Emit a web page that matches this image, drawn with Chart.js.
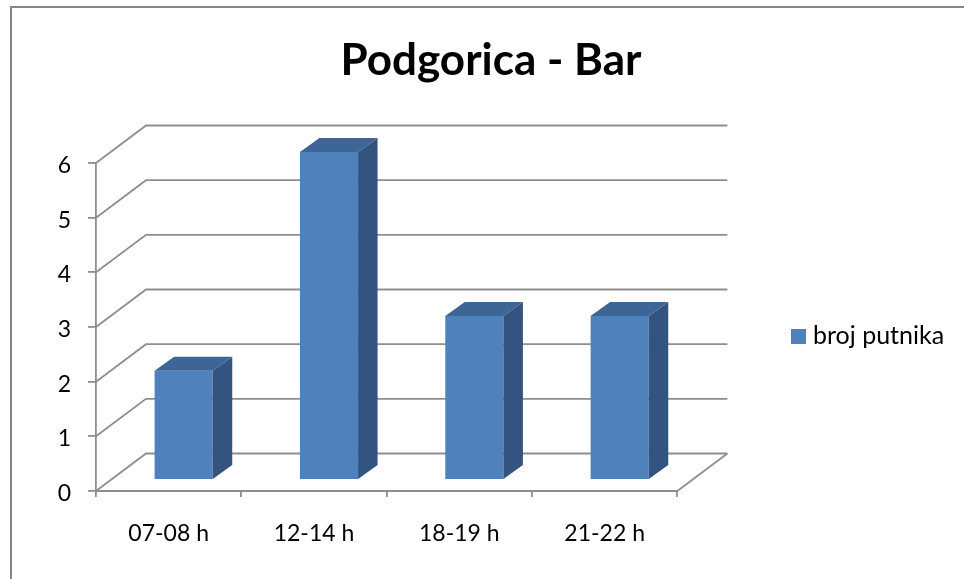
<!DOCTYPE html>
<html>
<head>
<meta charset="utf-8">
<title>Podgorica - Bar</title>
<script src="https://cdn.jsdelivr.net/npm/chart.js@4"></script>
<style>
  html, body { margin: 0; padding: 0; background: #fff; }
  canvas { display: block; }
</style>
</head>
<body>
<canvas id="resultChart" width="964" height="579"></canvas>
<script>
const categories = ['07-08 h', '12-14 h', '18-19 h', '21-22 h'];
const passengers = [2, 6, 3, 3];
const seriesName = 'broj putnika';
const chartTitle = 'Podgorica - Bar';

const lineColor = '#8e8e8e';
const frontColor = '#4f81bd';
const sideColor = '#32547f';
const topColor = '#3d6595';
const fontName = 'Lato, sans-serif';

// depth of the floor, and where the bars stand on it
const wallX = 50, wallY = -37.5;
const barX = 15, barY = -11;
const barDepthX = 19.5, barDepthY = -14;

// legend square, an image so the text can sit closer than the plain box allows
const legendMark = document.createElement('canvas');
legendMark.width = 15;
legendMark.height = 15;
const markCtx = legendMark.getContext('2d');
markCtx.fillStyle = frontColor;
markCtx.fillRect(0, 0, 15, 15);

function face(ctx, color, pts) {
  ctx.fillStyle = color;
  ctx.beginPath();
  pts.forEach((p, i) => i ? ctx.lineTo(p[0], p[1]) : ctx.moveTo(p[0], p[1]));
  ctx.closePath();
  ctx.fill();
}

const fakeDepth = {
  id: 'fakeDepth',
  beforeDraw(chart) {
    const ctx = chart.ctx;
    ctx.save();
    ctx.fillStyle = '#fff';
    ctx.fillRect(0, 0, chart.width, chart.height);
    // outer frame, only top and left are in the picture
    ctx.strokeStyle = '#868686';
    ctx.lineWidth = 2;
    ctx.beginPath();
    ctx.moveTo(11, chart.height);
    ctx.lineTo(11, 7);
    ctx.lineTo(chart.width, 7);
    ctx.stroke();
    ctx.restore();
  },
  afterLayout(chart) {
    // title and legend do not sit where the layout would put them
    chart.titleBlock.left += 69.5;
    chart.titleBlock.right += 69.5;
    const w = chart.legend.width;
    chart.legend.left = 788.5;
    chart.legend.right = 788.5 + w;
    chart.legend.top += 46.5;
    chart.legend.bottom += 46.5;
  },
  beforeDatasetsDraw(chart) {
    const ctx = chart.ctx;
    const { left, right, bottom } = chart.chartArea;
    const y = chart.scales.y;
    ctx.save();
    ctx.strokeStyle = lineColor;
    ctx.lineWidth = 1.8;
    y.ticks.forEach(t => {
      const py = y.getPixelForValue(t.value);
      ctx.beginPath();
      ctx.moveTo(left, py);
      ctx.lineTo(left + wallX, py + wallY);
      ctx.lineTo(right + wallX, py + wallY);
      ctx.stroke();
    });
    ctx.beginPath();
    ctx.moveTo(right, bottom);
    ctx.lineTo(right + wallX, bottom + wallY);
    ctx.stroke();
    ctx.restore();

    ctx.save();
    ctx.translate(barX, barY);
  },
  afterDatasetsDraw(chart) {
    const ctx = chart.ctx;
    ctx.restore();
    ctx.save();
    ctx.translate(barX, barY);
    chart.getDatasetMeta(0).data.forEach(bar => {
      const l = bar.x - bar.width / 2;
      const r = bar.x + bar.width / 2;
      face(ctx, sideColor, [[r, bar.y], [r + barDepthX, bar.y + barDepthY], [r + barDepthX, bar.base + barDepthY], [r, bar.base]]);
      face(ctx, topColor, [[l, bar.y], [l + barDepthX, bar.y + barDepthY], [r + barDepthX, bar.y + barDepthY], [r, bar.y]]);
    });
    ctx.restore();
  }
};

new Chart(document.getElementById('resultChart'), {
  type: 'bar',
  data: {
    labels: categories,
    datasets: [{
      label: seriesName,
      data: passengers,
      backgroundColor: frontColor,
      barPercentage: 0.4,
      categoryPercentage: 1,
      clip: false
    }]
  },
  options: {
    responsive: false,
    animation: false,
    layout: { padding: { left: 0, top: 0, right: 121, bottom: 0 } },
    plugins: {
      title: {
        display: true,
        text: chartTitle,
        color: '#000',
        font: { family: fontName, size: 44, weight: 'bold', lineHeight: 1.2 },
        padding: { top: 34, bottom: 76.2 }
      },
      legend: {
        position: 'right',
        labels: {
          usePointStyle: true,
          pointStyle: legendMark,
          pointStyleWidth: 4,
          boxHeight: 15,
          padding: 8,
          color: '#000',
          font: { family: fontName, size: 25 }
        }
      },
      tooltip: { enabled: false }
    },
    scales: {
      x: {
        afterFit(scale) { scale.height = 88; },
        grid: { drawOnChartArea: false, color: lineColor, lineWidth: 1.8, tickLength: 6 },
        border: { color: lineColor, width: 2 },
        ticks: { color: '#000', padding: 23, maxRotation: 0, font: { family: fontName, size: 23 } }
      },
      y: {
        min: 0,
        max: 6,
        afterFit(scale) { scale.width = 96; },
        grid: { drawOnChartArea: false, color: lineColor, lineWidth: 1.8, tickLength: 8 },
        border: { color: lineColor, width: 1.8 },
        ticks: { color: '#000', stepSize: 1, padding: 17, labelOffset: 2.5, font: { family: fontName, size: 23 } }
      }
    }
  },
  plugins: [fakeDepth]
});
</script>
</body>
</html>
